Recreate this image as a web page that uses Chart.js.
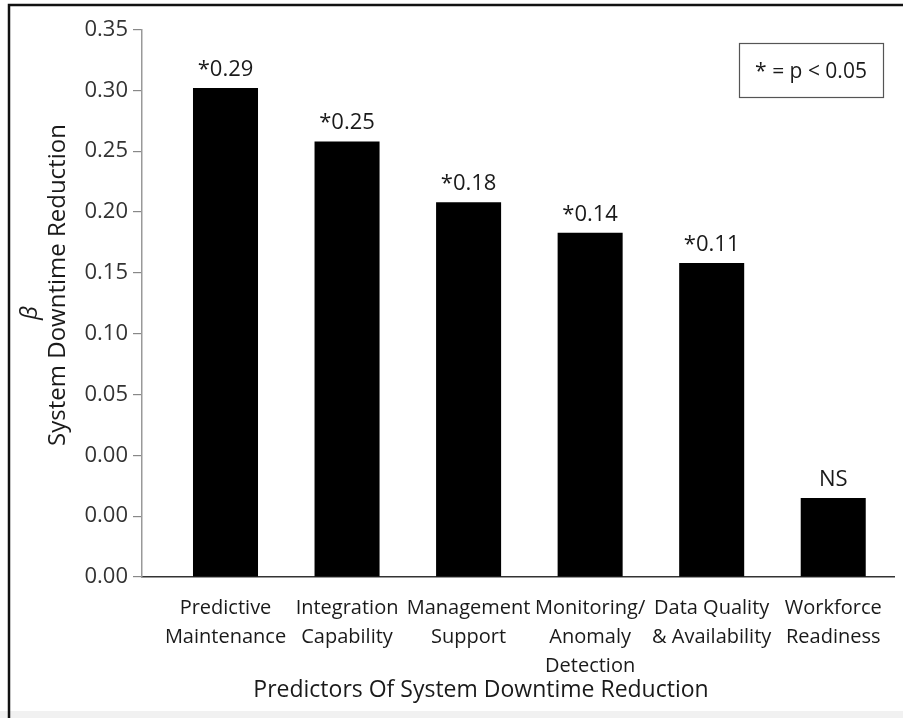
<!DOCTYPE html>
<html>
<head>
<meta charset="utf-8">
<script src="https://cdn.jsdelivr.net/npm/chart.js@4.4.1/dist/chart.umd.min.js"></script>
<style>
  html, body { margin: 0; padding: 0; background: #fff; }
  #wrap { width: 903px; height: 718px; }
</style>
</head>
<body>
<div id="wrap"><canvas id="beta"></canvas></div>
<script>
var categories = [
  ["Predictive", "Maintenance"],
  ["Integration", "Capability"],
  ["Management", "Support"],
  ["Monitoring/", "Anomaly", "Detection"],
  ["Data Quality", "& Availability"],
  ["Workforce", "Readiness"]
];
// bar heights as drawn against the printed axis
var heights = [0.402, 0.358, 0.308, 0.283, 0.258, 0.065];
var barLabels = ["*0.29", "*0.25", "*0.18", "*0.14", "*0.11", "NS"];
var tickLabels = ["0.00", "0.00", "0.00", "0.05", "0.10", "0.15", "0.20", "0.25", "0.30", "0.35"];

var txt = "#1a1a1a";
var font = "'Open Sans', 'Noto Sans', sans-serif";

var decor = {
  id: "decor",
  beforeDraw: function (chart) {
    var c = chart.ctx;
    c.save();
    c.fillStyle = "#fff";
    c.fillRect(0, 0, chart.width, chart.height);
    c.fillStyle = "#f1f1f1";
    c.fillRect(0, 711, chart.width, 7);
    c.strokeStyle = "#111";
    c.lineWidth = 2.5;
    c.beginPath();
    c.moveTo(9, 718);
    c.lineTo(9, 5);
    c.lineTo(903, 5);
    c.stroke();
    c.restore();
  },
  afterDraw: function (chart) {
    var c = chart.ctx;
    var bars = chart.getDatasetMeta(0).data;
    c.save();
    c.fillStyle = txt;
    c.textAlign = "center";
    c.textBaseline = "alphabetic";
    c.font = "22px " + font;
    bars.forEach(function (b, i) {
      c.fillText(barLabels[i], b.x, b.y - 12);
    });

    // significance key
    c.strokeStyle = "#555";
    c.lineWidth = 1.2;
    c.strokeRect(739.5, 43.5, 144, 54);
    c.font = "21px " + font;
    c.fillText("* = p < 0.05", 811, 78);

    // x title
    c.font = "23px " + font;
    c.textBaseline = "middle";
    c.fillText("Predictors Of System Downtime Reduction", 481, 690);

    // y title
    c.translate(58, 285);
    c.rotate(-Math.PI / 2);
    c.font = "24px " + font;
    c.fillText("System Downtime Reduction", 0, 0);
    c.font = "italic 24px " + font;
    c.fillText("\u03B2", -28, -28);
    c.restore();
  }
};

new Chart(document.getElementById("beta"), {
  type: "bar",
  data: {
    datasets: [{
      data: heights.map(function (h, i) { return { x: i, y: h }; }),
      backgroundColor: "#000",
      borderWidth: 0,
      barPercentage: 0.535,
      categoryPercentage: 1
    }]
  },
  options: {
    responsive: true,
    maintainAspectRatio: false,
    animation: false,
    layout: { padding: { left: 0, right: 9, top: 29.5, bottom: 0 } },
    plugins: { legend: { display: false }, tooltip: { enabled: false } },
    scales: {
      x: {
        type: "linear",
        offset: false,
        min: -0.687,
        max: 5.5,
        grid: { display: false },
        border: { color: "#333", width: 1.5 },
        afterFit: function (s) { s.height = 141; },
        ticks: {
          stepSize: 1,
          includeBounds: false,
          autoSkip: false,
          maxRotation: 0,
          padding: 8.5,
          color: txt,
          font: { family: font, size: 20, lineHeight: 1.45 },
          callback: function (v) { return Number.isInteger(v) ? categories[v] : ""; }
        }
      },
      y: {
        min: 0,
        max: 0.45,
        grid: { drawOnChartArea: false, drawTicks: true, tickLength: 9, color: "#888", lineWidth: 1.2 },
        border: { color: "#999", width: 1.5 },
        afterFit: function (s) { s.width = 142; },
        ticks: {
          stepSize: 0.05,
          padding: 5,
          color: "#333",
          font: { family: font, size: 22 },
          callback: function (v, i) { return tickLabels[i]; }
        }
      }
    }
  },
  plugins: [decor]
});
</script>
</body>
</html>
